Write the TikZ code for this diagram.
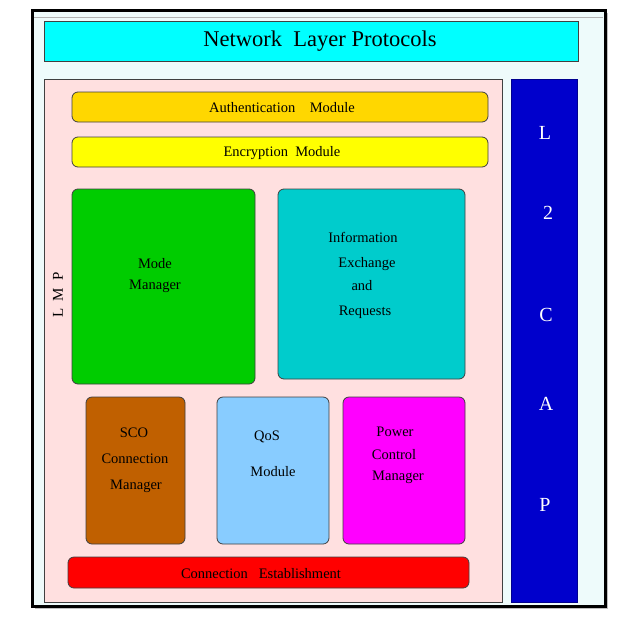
\documentclass[tikz,border=0pt]{standalone}
\usepackage{fontspec}
\setmainfont{Liberation Serif}
\definecolor{framebg}{HTML}{EEFBFB}
\definecolor{titlecyan}{HTML}{00FFFF}
\definecolor{lmppink}{HTML}{FFE0E0}
\definecolor{l2blue}{HTML}{0000CC}
\definecolor{authgold}{HTML}{FFD700}
\definecolor{encyel}{HTML}{FFFF00}
\definecolor{modegreen}{HTML}{00CC00}
\definecolor{infocyan}{HTML}{00CCCC}
\definecolor{scobrown}{HTML}{C06000}
\definecolor{qosblue}{HTML}{88CCFF}
\definecolor{powmag}{HTML}{FF00FF}
\definecolor{connred}{HTML}{FF0000}
\definecolor{edgegray}{HTML}{404040}
\tikzset{
  panel/.style={draw=edgegray, line width=0.8pt, inner sep=0pt},
  rbox/.style={draw=edgegray, line width=0.8pt, rounded corners=6pt, inner sep=0pt},
  lbl/.style={font=\fontsize{14.5}{16}\selectfont, inner sep=0pt, text=black},
  l2letter/.style={font=\fontsize{20}{22}\selectfont, inner sep=0pt, text=white},
}
\begin{document}
\begin{tikzpicture}[x=1pt,y=-1pt]
\useasboundingbox (0,0) rectangle (628,616);
\fill[white] (0,0) rectangle (628,616);
% shadow and outer frame
\fill[black!25] (35,13) rectangle (608,609);
\draw[line width=3pt, fill=framebg] (32,10) rectangle (605,606);
\draw[black!30, line width=0.6pt] (34,17) -- (603,17);
% title
\node[panel, fill=titlecyan, minimum width=534pt, minimum height=40pt] (title) at (311,41) {};
\node[font=\fontsize{22.5}{24}\selectfont, inner sep=0pt] (titletext) at (320,41) {Network\ \ Layer Protocols};
% LMP panel
\node[panel, fill=lmppink, minimum width=458pt, minimum height=523pt] (lmp) at (273,340.5) {};
\node[font=\fontsize{15}{17}\selectfont, inner sep=0pt, rotate=90] (lmptext) at (58,295) {L\ \ M\ \ P};
% L2CAP panel
\node[panel, draw=l2blue!70!black, fill=l2blue, minimum width=66pt, minimum height=523pt] (l2cap) at (544,340.5) {};
\node[l2letter] (cL) at (545,133) {L};
\node[l2letter] (c2) at (548,213) {2};
\node[l2letter] (cC) at (546,315) {C};
\node[l2letter] (cA) at (546,404) {A};
\node[l2letter] (cP) at (545,505) {P};
% bars
\node[rbox, fill=authgold, minimum width=416pt, minimum height=30pt] (auth) at (280,107) {};
\node[lbl] (authtext) at (282,108) {Authentication\ \ \ \ Module};
\node[rbox, fill=encyel, minimum width=416pt, minimum height=30pt] (enc) at (280,152) {};
\node[lbl] (enctext) at (282,153) {Encryption\ \ Module};
% mode manager
\node[rbox, fill=modegreen, minimum width=183pt, minimum height=195pt] (mode) at (163.5,286.5) {};
\node[lbl] (mode1) at (155,264) {Mode};
\node[lbl] (mode2) at (155,286) {Manager};
% info exchange
\node[rbox, fill=infocyan, minimum width=187pt, minimum height=190pt] (info) at (371.5,284) {};
\node[lbl] (info1) at (363,237) {Information};
\node[lbl] (info2) at (367,264) {Exchange};
\node[lbl] (info3) at (362,286) {and};
\node[lbl] (info4) at (365,312) {Requests};
% SCO
\node[rbox, fill=scobrown, minimum width=99pt, minimum height=147pt] (sco) at (135.5,470.5) {};
\node[lbl] (sco1) at (134,433) {SCO};
\node[lbl] (sco2) at (135,459) {Connection};
\node[lbl] (sco3) at (136,486) {Manager};
% QoS
\node[rbox, fill=qosblue, minimum width=112pt, minimum height=147pt] (qos) at (273,470.5) {};
\node[lbl] (qos1) at (267,437) {QoS};
\node[lbl] (qos2) at (273,472) {Module};
% Power
\node[rbox, fill=powmag, minimum width=122pt, minimum height=147pt] (pow) at (404,470.5) {};
\node[lbl] (pow1) at (395,432) {Power};
\node[lbl] (pow2) at (394,455) {Control};
\node[lbl] (pow3) at (398,477) {Manager};
% connection establishment
\node[rbox, fill=connred, minimum width=401pt, minimum height=31pt] (conn) at (268.5,572.5) {};
\node[lbl] (conntext) at (261,574) {Connection\ \ \ Establishment};
\end{tikzpicture}
\end{document}
